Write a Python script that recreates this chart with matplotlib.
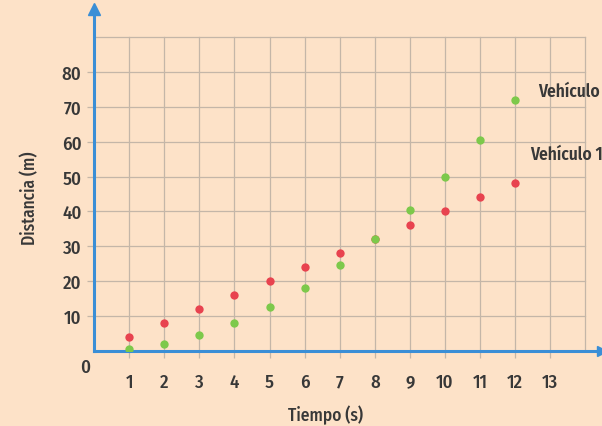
import matplotlib
matplotlib.use("Agg")
import matplotlib.pyplot as plt

# Data: time (s) and distance (m) for both vehicles
tiempo = [1, 2, 3, 4, 5, 6, 7, 8, 9, 10, 11, 12]
vehiculo_1 = [4, 8, 12, 16, 20, 24, 28, 32, 36, 40, 44, 48]
vehiculo_2 = [0.5, 2, 4.5, 8, 12.5, 18, 24.5, 32, 40.5, 50, 60.5, 72]
x_ticks = list(range(1, 14))
y_ticks = [10, 20, 30, 40, 50, 60, 70, 80]

plt.rcParams["font.family"] = ["Fira Sans Condensed", "DejaVu Sans"]

BG = "#fde2c8"
BLUE = "#3a8ed6"
GRID = "#c4b6a8"
TXT = "#383838"
RED = "#e8434f"
GREEN = "#7dc94b"

fig = plt.figure(figsize=(6.02, 4.27), dpi=100, facecolor=BG)
W, H = 602, 427
x0_px, y0_px = 94, 352          # origin in pixels
px_x, px_y = 35.1, 3.49         # pixels per unit
ax_w = W - x0_px
ax_h = y0_px - 10
ax = fig.add_axes([x0_px / W, (H - y0_px) / H, ax_w / W, ax_h / H])
ax.set_facecolor(BG)
ax.set_xlim(0, ax_w / px_x)
ax.set_ylim(0, ax_h / px_y)

# Grid limited to the drawing area (x <= 14, y <= 90)
for xv in range(1, 15):
    ax.plot([xv, xv], [0, 90], color=GRID, lw=0.9, zorder=1)
for yv in range(10, 100, 10):
    ax.plot([0, 14], [yv, yv], color=GRID, lw=0.9, zorder=1)

for s in ["top", "right"]:
    ax.spines[s].set_visible(False)
for s in ["left", "bottom"]:
    ax.spines[s].set_color(BLUE)
    ax.spines[s].set_linewidth(2.2)
    ax.spines[s].set_zorder(3)

# Arrow heads at the end of both axes
ax.plot(1, 0, marker=">", color=BLUE, markersize=7, transform=ax.transAxes, clip_on=False, zorder=4)
ax.plot(0, 1, marker="^", color=BLUE, markersize=8, transform=ax.transAxes, clip_on=False, zorder=4)

ax.set_xticks(x_ticks)
ax.set_xticklabels([str(v) for v in x_ticks], fontweight="medium")
ax.set_yticks(y_ticks)
ax.set_yticklabels([str(v) for v in y_ticks], fontweight="medium")
ax.tick_params(axis="x", length=5, width=0.9, color=GRID, pad=11, labelsize=13.5, labelcolor=TXT)
ax.tick_params(axis="y", length=5, width=0.9, color=GRID, pad=4, labelsize=13.5, labelcolor=TXT)

ax.text(-0.25, -4.5, "0", ha="center", va="center", fontsize=13.5, fontweight="medium",
        color=TXT, clip_on=False)

ax.scatter(tiempo, vehiculo_1, s=36, color=RED, zorder=5, linewidths=0)
ax.scatter(tiempo, vehiculo_2, s=36, color=GREEN, zorder=6, linewidths=0)

ax.text(12.65, 74.5, "Vehículo", ha="left", va="center", fontsize=12.5,
        fontweight="semibold", color=TXT, clip_on=False)
ax.text(12.42, 56.4, "Vehículo 1", ha="left", va="center", fontsize=12.5,
        fontweight="semibold", color=TXT, clip_on=False)

fig.text(325 / W, 1 - 415 / H, "Tiempo (s)", ha="center", va="center", fontsize=12.5,
         fontweight="medium", color=TXT)
fig.text(30 / W, 1 - 198 / H, "Distancia (m)", ha="center", va="center", rotation=90,
         fontsize=12.5, fontweight="medium", color=TXT)

fig.savefig("out.png", dpi=100, facecolor=BG)
